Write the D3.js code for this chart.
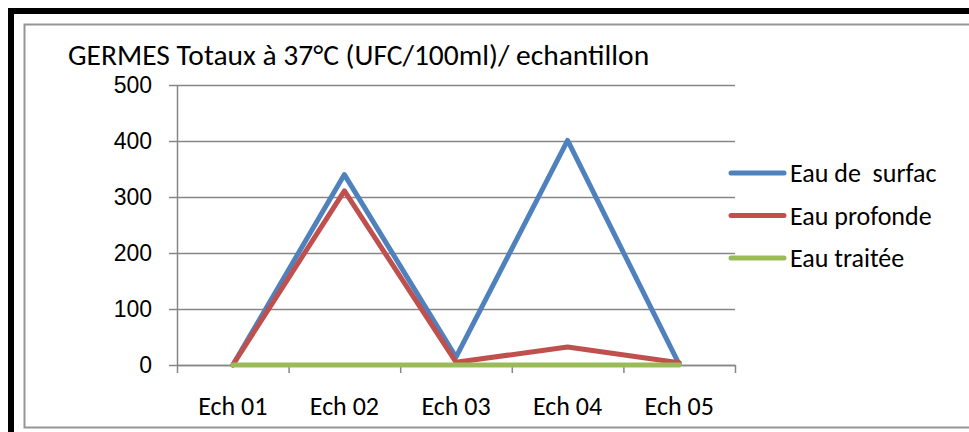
<!DOCTYPE html>
<html>
<head>
<meta charset="utf-8">
<script src="https://cdn.jsdelivr.net/npm/d3@7"></script>
<style>
  body { margin: 0; background: #fff; }
  text { font-family: Carlito, Calibri, Lato, sans-serif; fill: #000; }
</style>
</head>
<body>
<div id="chart"></div>
<script>
var categories = ["Ech 01", "Ech 02", "Ech 03", "Ech 04", "Ech 05"];
var seriesNames = ["Eau de  surfac", "Eau profonde", "Eau traitée"];
var surface = [0, 340, 14, 401, 1];
var profonde = [0, 311, 5, 32, 4];
var traitee = [0, 0, 0, 0, 0];
var yTicks = [0, 100, 200, 300, 400, 500];
var colors = ["#4F81BD", "#C0504D", "#9BBB59"];

var W = 969, H = 432;
var margin = {top: 85, left: 177, right: 234, bottom: 67};
var width = W - margin.left - margin.right,
    height = H - margin.top - margin.bottom;

var svg = d3.select("#chart").append("svg")
    .attr("width", W)
    .attr("height", H);

// outer frame: thick black top / left, grey inner border
svg.append("rect").attr("x", 8).attr("y", 8).attr("width", W - 8).attr("height", 6).attr("fill", "#000");
svg.append("rect").attr("x", 8).attr("y", 8).attr("width", 6).attr("height", H - 8).attr("fill", "#000");
svg.append("path")
    .attr("d", "M" + W + ",24.5H24.5V427.5H" + W)
    .attr("fill", "none")
    .attr("stroke", "#959595")
    .attr("stroke-width", 2);

svg.append("text")
    .attr("x", 68)
    .attr("y", 65)
    .style("font-size", "29.5px")
    .text("GERMES Totaux à 37°C (UFC/100ml)/ echantillon");

var g = svg.append("g")
    .attr("transform", "translate(" + margin.left + "," + margin.top + ")");

var x = d3.scaleBand().domain(categories).range([0, width]);
var xb = d3.scaleLinear().domain([0, categories.length]).range([0, width]);
var y = d3.scaleLinear().domain([0, 500]).range([height, 0]);

// gridlines
g.append("g")
    .call(d3.axisLeft(y).tickValues(yTicks).tickSize(-width).tickFormat(""))
    .call(function(s){ s.select(".domain").remove(); })
    .selectAll("line").attr("stroke", "#868686").attr("stroke-width", 1.5);

// y axis
var ya = g.append("g")
    .call(d3.axisLeft(y).tickValues(yTicks).tickSizeInner(8).tickSizeOuter(0).tickPadding(17));
ya.select(".domain").attr("stroke", "#868686").attr("stroke-width", 1.5);
ya.selectAll("line").attr("stroke", "#868686").attr("stroke-width", 1.5);
ya.selectAll("text")
    .style("font-size", "23px")
    .style("font-family", "'Liberation Sans', Arial, sans-serif")
    .attr("font-family", null);

// x axis: boundary ticks
var xa = g.append("g")
    .attr("transform", "translate(0," + height + ")")
    .call(d3.axisBottom(xb).tickValues(d3.range(categories.length + 1)).tickSizeInner(8).tickSizeOuter(0).tickFormat(""));
xa.select(".domain").attr("stroke", "#868686").attr("stroke-width", 1.5);
xa.selectAll("line").attr("stroke", "#868686").attr("stroke-width", 1.5);

// x labels
var xl = g.append("g")
    .attr("transform", "translate(0," + height + ")")
    .call(d3.axisBottom(x).tickSize(0).tickPadding(32));
xl.select(".domain").remove();
xl.selectAll("text").style("font-size", "26px").attr("font-family", null);

var line = d3.line()
    .x(function(d, i){ return x(categories[i]) + x.bandwidth() / 2; })
    .y(function(d){ return y(d); });

[surface, profonde, traitee].forEach(function(s, i){
    g.append("path")
        .datum(s)
        .attr("fill", "none")
        .attr("stroke", colors[i])
        .attr("stroke-width", 5)
        .attr("stroke-linejoin", "round")
        .attr("stroke-linecap", "round")
        .attr("d", line);
});

// legend
var legend = svg.append("g");
seriesNames.forEach(function(name, i){
    var ly = 173 + i * 42.5;
    legend.append("line")
        .attr("x1", 731).attr("x2", 784)
        .attr("y1", ly).attr("y2", ly)
        .attr("stroke", colors[i])
        .attr("stroke-width", 5)
        .attr("stroke-linecap", "round");
    legend.append("text")
        .attr("x", 790)
        .attr("y", ly)
        .attr("dy", "0.35em")
        .style("font-size", "26px")
        .style("white-space", "pre")
        .text(name);
});
</script>
</body>
</html>
